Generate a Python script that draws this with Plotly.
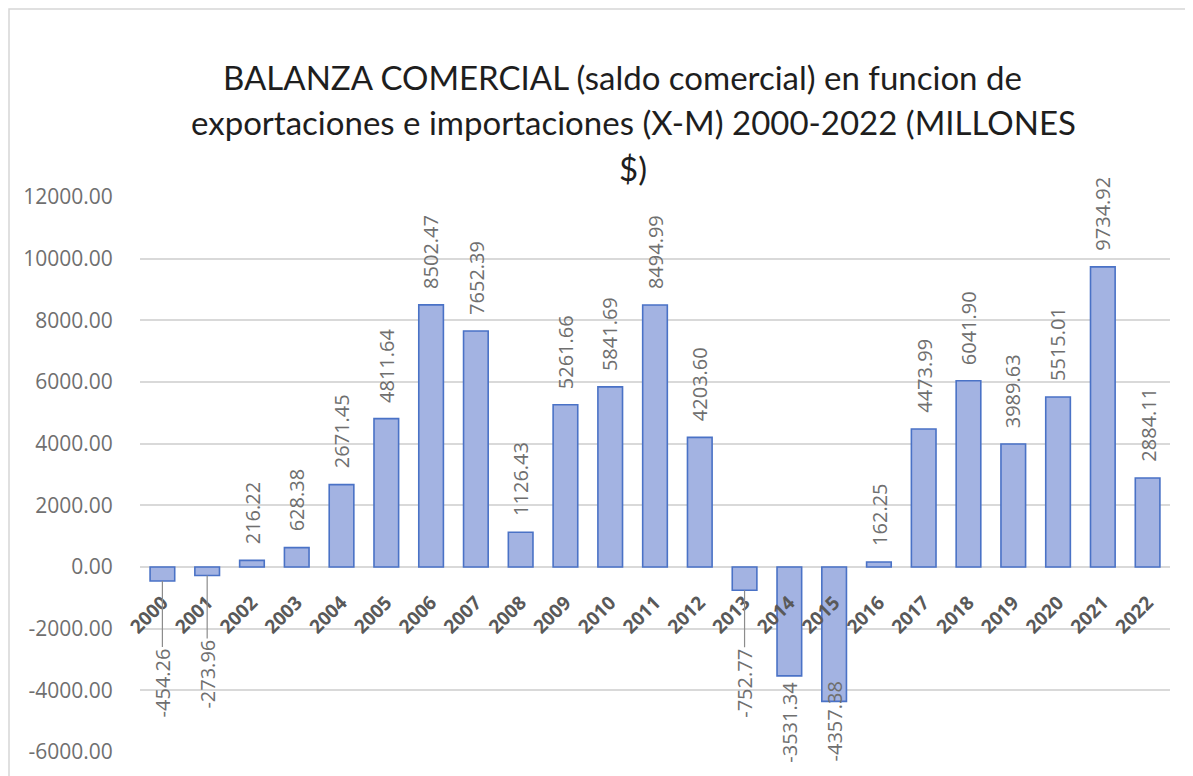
import plotly.graph_objects as go

years = [str(y) for y in range(2000, 2023)]
saldo = [-454.26, -273.96, 216.22, 628.38, 2671.45, 4811.64, 8502.47, 7652.39,
         1126.43, 5261.66, 5841.69, 8494.99, 4203.60, -752.77, -3531.34, -4357.38,
         162.25, 4473.99, 6041.90, 3989.63, 5515.01, 9734.92, 2884.11]
title_lines = ["BALANZA COMERCIAL (saldo comercial) en funcion de",
               "exportaciones e importaciones (X-M) 2000-2022 (MILLONES",
               "$)"]
y_ticks = [-6000, -4000, -2000, 0, 2000, 4000, 6000, 8000, 10000, 12000]

# label placement tweaks (style only)
leader_offsets = {"2000": 102, "2001": 99, "2013": 93}
neg_shift = {"2014": -4, "2015": 22}

OFF = 8  # page body margin
W, H = 1193 - OFF, 776 - OFF
ML, MT = 140 - OFF, 197 - OFF
PW, PH = 1030, 555
MR, MB = W - ML - PW, H - MT - PH

def px_x(p):
    return (p - OFF - ML) / PW

def px_y(p):
    return (H - MB - (p - OFF)) / PH

LABEL_GRAY = "#6f6f6f"
FONT = "Open Sans"

fig = go.Figure()
fig.add_trace(go.Bar(
    x=years, y=saldo, width=0.55,
    marker=dict(color="#a3b3e2", line=dict(color="#4a72c6", width=1.6)),
    hoverinfo="x+y",
))

annotations = []
for i, (yr, v) in enumerate(zip(years, saldo)):
    txt = f"{v:.2f}"
    if yr in leader_offsets:
        annotations.append(dict(
            x=i, y=v, xref="x", yref="y", text=txt, textangle=-90,
            showarrow=True, arrowhead=0, arrowwidth=1.2, arrowcolor="#8c8c8c",
            ax=0, ay=leader_offsets[yr], standoff=0,
            font=dict(family=FONT, size=20, color=LABEL_GRAY)))
    elif v >= 0:
        annotations.append(dict(
            x=i, y=v, xref="x", yref="y", text=txt, textangle=-90,
            showarrow=False, yanchor="bottom", xanchor="center", yshift=14,
            font=dict(family=FONT, size=20, color=LABEL_GRAY)))
    else:
        annotations.append(dict(
            x=i, y=v, xref="x", yref="y", text=txt, textangle=-90,
            showarrow=False, yanchor="top", xanchor="center",
            yshift=neg_shift.get(yr, -4),
            font=dict(family=FONT, size=20, color=LABEL_GRAY)))

title_pos = [(622, 77), (633, 122), (633, 168)]
for line, (xc, yc) in zip(title_lines, title_pos):
    annotations.append(dict(
        x=px_x(xc), y=px_y(yc), xref="paper", yref="paper", text=line,
        showarrow=False, xanchor="center", yanchor="middle",
        font=dict(family="Lato", size=33, color="#1e1e1e")))

fig.update_layout(
    width=W, height=H,
    margin=dict(l=ML, r=MR, t=MT, b=MB),
    paper_bgcolor="white", plot_bgcolor="white",
    showlegend=False,
    annotations=annotations,
    shapes=[dict(type="rect", xref="paper", yref="paper",
                 x0=px_x(9), x1=px_x(1260), y0=px_y(820), y1=px_y(9),
                 line=dict(color="#d6d6d6", width=1.5), layer="below")],
    xaxis=dict(
        type="category", anchor="free", position=6000 / 18000,
        range=[-0.5, len(years) - 0.5],
        tickangle=-45, showgrid=False, showline=False, zeroline=False,
        ticks="outside", ticklen=16, tickcolor="rgba(0,0,0,0)",
        tickfont=dict(family=FONT, size=19, color="#595959", weight="bold"),
    ),
    yaxis=dict(
        range=[-6000, 12000], tickvals=y_ticks,
        ticktext=[f"{v:.2f}" for v in y_ticks],
        showgrid=True, gridcolor="#d9d9d9", gridwidth=1.5,
        zeroline=True, zerolinecolor="#d9d9d9", zerolinewidth=1.5,
        showline=False, ticks="outside", ticklen=22, tickcolor="rgba(0,0,0,0)",
        tickfont=dict(family=FONT, size=21, color=LABEL_GRAY),
    ),
)

fig.write_html("out.html")
